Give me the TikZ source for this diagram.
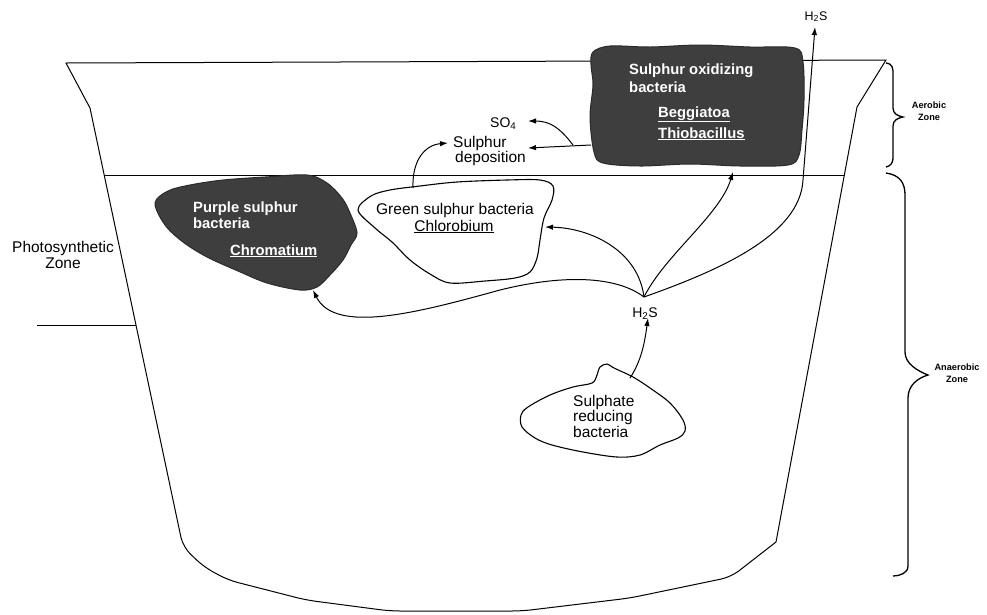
\documentclass[tikz,border=0pt]{standalone}
\usepackage{fontspec}
\setmainfont{Liberation Sans}
\usetikzlibrary{arrows.meta}
\definecolor{blobgray}{RGB}{62,62,62}
\begin{document}
\begin{tikzpicture}[x=1pt,y=-1pt,
  wall/.style={line width=1pt},
  darkblob/.style={fill=blobgray, draw=blobgray!70!black, line width=1pt},
  lightblob/.style={fill=white, draw=black, line width=1.1pt},
  conn/.style={line width=1pt, -{Latex[length=8pt,width=5.5pt]}},
  brace/.style={line width=1.3pt},
  lbl/.style={inner sep=0pt, font=\fontsize{15.5}{17}\selectfont},
  wlbl/.style={inner sep=0pt, text=white, font=\fontsize{14.8}{17}\selectfont\bfseries},
  small/.style={inner sep=0pt, font=\fontsize{9.2}{10}\selectfont\bfseries},
]
\path[use as bounding box] (0,0) rectangle (987,614);

% vessel
\draw[wall] (66,63) -- (886,60) -- (857,107) -- (776,542)
  [rounded corners=10pt] -- (731,577) -- (630,598) -- (522,611) -- (390,611) -- (306,600) -- (228,580) -- (204,567) -- (183,547)
  [sharp corners] -- (90,108) -- cycle;
\draw[wall] (104,175) -- (844,175);
\draw[wall] (37,325) -- (136,325);

% braces
\draw[brace] (886,63) .. controls (893,64) and (893,68) .. (893,75) -- (893,108)
  .. controls (893,114) and (898,116) .. (903,117)
  .. controls (898,118) and (893,120) .. (893,126) -- (893,157)
  .. controls (893,164) and (890,166) .. (886,167);
\draw[brace] (886,173) .. controls (900,175) and (905,183) .. (905,195) -- (905,352)
  .. controls (905,364) and (918,371) .. (928,375)
  .. controls (918,378) and (908,385) .. (908,398) -- (908,566)
  .. controls (908,573) and (900,576) .. (893,576);

% blobs
\draw[darkblob] plot[smooth cycle, tension=0.55] coordinates {
  (593,52) (610,46) (650,47) (700,45) (750,47) (795,48) (803,62) (804,100)
  (802,130) (799,155) (788,165) (740,166) (690,164) (640,166) (603,163)
  (594,152) (590,117) (593,85) (591,65)};
\draw[darkblob] plot[smooth cycle, tension=0.55] coordinates {
  (155,203) (168,191) (190,185) (223,180) (265,177) (307,175) (327,183)
  (342,198) (350,213) (357,233) (351,245) (343,260) (330,275) (317,287)
  (300,290) (267,283) (238,271) (207,257) (183,242) (165,225)};
\draw[lightblob] plot[smooth cycle, tension=0.55] coordinates {
  (358,210) (371,196) (390,190) (420,186) (457,182) (507,180) (540,180)
  (553,186) (552,200) (544,218) (540,240) (537,258) (530,272) (515,278)
  (485,281) (450,283) (430,274) (410,260) (392,242) (375,228)};
\draw[lightblob] plot[smooth cycle, tension=0.55] coordinates {
  (600,367) (607,364) (614,368) (633,377) (650,388) (670,403) (683,420)
  (685,431) (678,438) (660,445) (640,455) (617,457) (583,452) (552,445)
  (535,438) (522,427) (521,415) (528,407) (550,395) (573,387) (592,383)
  (597,375)};

% named connector ends
\coordinate (J) at (644,297);
\coordinate (soxL) at (591,145);
\coordinate (branch) at (573,145);
\coordinate (depTip) at (528,148);
\coordinate (so4Tip) at (528,121);
\coordinate (grTop) at (413,188);
\coordinate (sulTip) at (448,143);
\coordinate (grR) at (545,227);
\coordinate (puTip) at (313,290);
\coordinate (soxB) at (733,172);
\coordinate (topTip) at (815,27);
\coordinate (srbTop) at (630,378);
\coordinate (h2sTip) at (648,318);

% connectors
\draw[conn] (soxL) -- (depTip);
\draw[conn] (branch) .. controls (560,128) and (550,121) .. (so4Tip);
\draw[conn] (grTop) .. controls (412,160) and (425,145) .. (sulTip);
\draw[conn] (J) .. controls (638,250) and (590,228) .. (grR);
\draw[conn] (J) .. controls (615,275) and (560,275) .. (500,290)
  .. controls (420,312) and (335,335) .. (puTip);
\draw[conn] (J) .. controls (665,255) and (720,215) .. (soxB);
\draw[conn] (J) .. controls (720,270) and (800,235) .. (803,180) -- (topTip);
\draw[conn] (srbTop) .. controls (642,360) and (645,340) .. (h2sTip);

% labels
\node[lbl, anchor=base] (ps1) at (63,252) {Photosynthetic};
\node[lbl, anchor=base] (ps2) at (63,268) {Zone};
\node[small, anchor=base] (ae1) at (929,108) {Aerobic};
\node[small, anchor=base] (ae2) at (929,120) {Zone};
\node[small, anchor=base] (an1) at (957,370) {Anaerobic};
\node[small, anchor=base] (an2) at (957,382) {Zone};

\node[wlbl, anchor=base west] (so1) at (629,74) {Sulphur oxidizing};
\node[wlbl, anchor=base west] (so2) at (629,92) {bacteria};
\node[wlbl, anchor=base west] (so3) at (658,117) {\underline{Beggiatoa}};
\node[wlbl, anchor=base west] (so4) at (658,138) {\underline{Thiobacillus}};

\node[wlbl, anchor=base west] (pu1) at (193,212) {Purple sulphur};
\node[wlbl, anchor=base west] (pu2) at (193,228) {bacteria};
\node[wlbl, anchor=base west] (pu3) at (230,255) {\underline{Chromatium}};

\node[lbl, anchor=base] (gr1) at (455,214) {Green sulphur bacteria};
\node[lbl, anchor=base] (gr2) at (454,231) {\underline{Chlorobium}};

\node[lbl, anchor=base west] (sd1) at (453,147) {Sulphur};
\node[lbl, anchor=base west] (sd2) at (455,162) {deposition};
\node[lbl, anchor=base west, font=\fontsize{14}{16}\selectfont] (so4l) at (490,127) {SO\textsubscript{4}};

\node[lbl, anchor=base, font=\fontsize{12.5}{14}\selectfont] (h2sTop) at (816,20) {H\textsubscript{2}S};
\node[lbl, anchor=base, font=\fontsize{14}{16}\selectfont] (h2sMid) at (645,317) {H\textsubscript{2}S};

\node[lbl, anchor=base west] (sr1) at (573,406) {Sulphate};
\node[lbl, anchor=base west] (sr2) at (573,421.5) {reducing};
\node[lbl, anchor=base west] (sr3) at (573,437) {bacteria};
\end{tikzpicture}
\end{document}
